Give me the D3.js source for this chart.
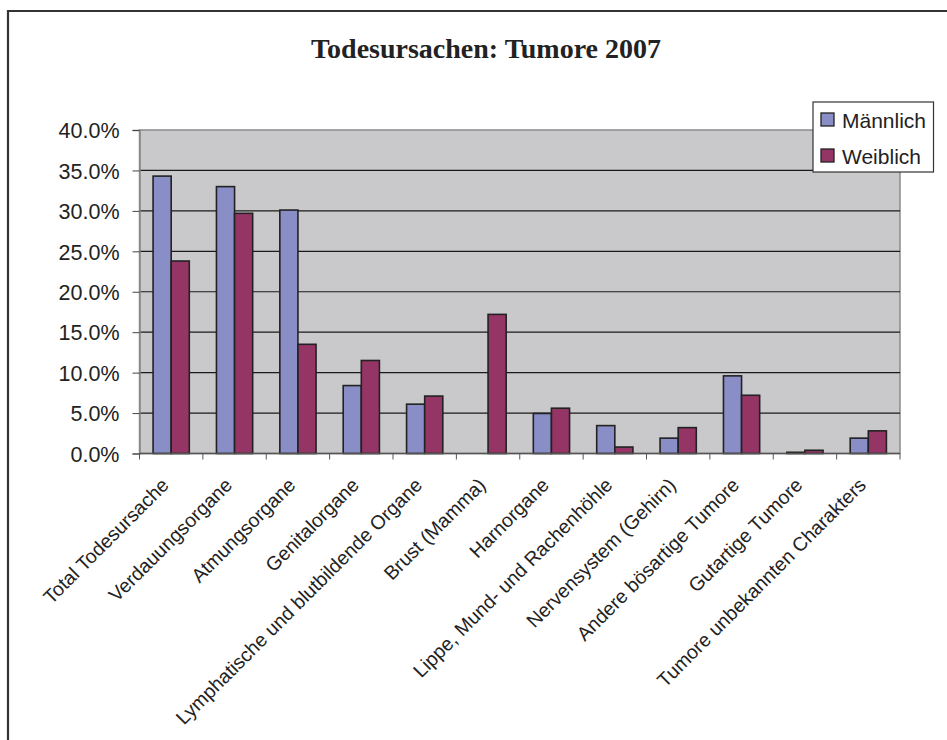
<!DOCTYPE html>
<html>
<head>
<meta charset="utf-8">
<script src="https://cdn.jsdelivr.net/npm/d3@7"></script>
<style>
  body { margin: 0; background: #fff; }
  text { font-family: "Liberation Sans", Arial, sans-serif; fill: #222; }
</style>
</head>
<body>
<svg id="chart" width="947" height="740"></svg>
<script>
const categories = [
  "Total Todesursache", "Verdauungsorgane", "Atmungsorgane", "Genitalorgane",
  "Lymphatische und blutbildende Organe", "Brust (Mamma)", "Harnorgane",
  "Lippe, Mund- und Rachenhöhle", "Nervensystem (Gehirn)", "Andere bösartige Tumore",
  "Gutartige Tumore", "Tumore unbekannten Charakters"
];
const maennlich = [34.3, 33.0, 30.1, 8.4, 6.1, 0, 4.95, 3.45, 1.9, 9.6, 0.15, 1.9];
const weiblich  = [23.8, 29.7, 13.5, 11.5, 7.1, 17.2, 5.6, 0.8, 3.2, 7.2, 0.4, 2.8];
const series = ["Männlich", "Weiblich"];
const yTicks = [0, 5, 10, 15, 20, 25, 30, 35, 40];

const colors = { "Männlich": "#8a8ec6", "Weiblich": "#953565" };

const svg = d3.select("#chart");
const plot = { left: 139.5, right: 900, top: 130, bottom: 453.5 };

// outer frame (only top and left edges visible in the picture)
svg.append("path")
  .attr("d", "M8,740 V11 H947")
  .attr("fill", "none")
  .attr("stroke", "#333")
  .attr("stroke-width", 2.2);

svg.append("text")
  .attr("x", 486)
  .attr("y", 58)
  .attr("text-anchor", "middle")
  .style("font-family", "'Liberation Serif', 'Times New Roman', serif")
  .style("font-weight", "bold")
  .style("font-size", "28px")
  .text("Todesursachen: Tumore 2007");

const x = d3.scaleBand()
  .domain(categories)
  .range([plot.left, plot.right]);

const barW = x.bandwidth() / 3.5;
const x1 = d3.scaleBand()
  .domain(series)
  .range([0, barW * 2]);

const y = d3.scaleLinear()
  .domain([0, 40])
  .range([plot.bottom, plot.top]);

// plot background
svg.append("rect")
  .attr("x", plot.left)
  .attr("y", plot.top)
  .attr("width", plot.right - plot.left)
  .attr("height", plot.bottom - plot.top)
  .attr("fill", "#c9c9cb")
  .attr("stroke", "#8a8a8a")
  .attr("stroke-width", 1.5);

// gridlines
svg.append("g")
  .selectAll("line")
  .data(yTicks.filter(d => d > 0 && d < 40))
  .enter().append("line")
    .attr("x1", plot.left)
    .attr("x2", plot.right)
    .attr("y1", d => y(d))
    .attr("y2", d => y(d))
    .attr("stroke", "#1a1a1a")
    .attr("stroke-width", 1.2);

// bars
const rows = categories.map((c, i) => ({ cat: c, values: [maennlich[i], weiblich[i]] }));

const groups = svg.append("g")
  .selectAll("g")
  .data(rows)
  .enter().append("g")
    .attr("transform", d => "translate(" + (x(d.cat) + (x.bandwidth() - barW * 2) / 2) + ",0)");

groups.selectAll("rect")
  .data(d => series.map((s, j) => ({ s: s, v: d.values[j] })).filter(d => d.v > 0))
  .enter().append("rect")
    .attr("x", d => x1(d.s))
    .attr("y", d => y(d.v))
    .attr("width", x1.bandwidth())
    .attr("height", d => y(0) - y(d.v))
    .attr("fill", d => colors[d.s])
    .attr("stroke", "#222")
    .attr("stroke-width", 1.6);

// y axis
const yAxis = svg.append("g")
  .attr("transform", "translate(" + plot.left + ",0)")
  .call(d3.axisLeft(y).tickValues(yTicks).tickSize(7).tickPadding(13)
    .tickFormat(d => d.toFixed(1) + "%"));
yAxis.select(".domain").attr("stroke", "#888").attr("stroke-width", 1.5);
yAxis.selectAll(".tick line").attr("stroke", "#444");
yAxis.selectAll("text")
  .attr("fill", "#222")
  .style("font-size", "21.5px")
  .attr("dy", "0.36em");

// x axis ticks between categories
const xAxis = svg.append("g")
  .attr("transform", "translate(0," + plot.bottom + ")");
xAxis.append("line")
  .attr("x1", plot.left).attr("x2", plot.right)
  .attr("stroke", "#555").attr("stroke-width", 1.5);
xAxis.selectAll("line.tick")
  .data(categories.concat([null]))
  .enter().append("line")
    .attr("class", "tick")
    .attr("x1", (d, i) => plot.left + i * x.step())
    .attr("x2", (d, i) => plot.left + i * x.step())
    .attr("y1", 0).attr("y2", 6)
    .attr("stroke", "#555");

xAxis.selectAll("text")
  .data(categories)
  .enter().append("text")
    .attr("transform", d => "translate(" + (x(d) + x.bandwidth() / 2 - 6) + ",28) rotate(-45)")
    .attr("text-anchor", "end")
    .attr("dy", "0.35em")
    .style("font-size", "19.5px")
    .text(d => d);

// legend
const legend = svg.append("g").attr("transform", "translate(813,102)");
legend.append("rect")
  .attr("width", 120.5)
  .attr("height", 70)
  .attr("fill", "#fff")
  .attr("stroke", "#333")
  .attr("stroke-width", 1.2);

const item = legend.selectAll("g")
  .data(series)
  .enter().append("g")
    .attr("transform", (d, i) => "translate(8," + (11 + i * 36) + ")");
item.append("rect")
  .attr("width", 13)
  .attr("height", 13)
  .attr("fill", d => colors[d])
  .attr("stroke", "#222")
  .attr("stroke-width", 1.3);
item.append("text")
  .attr("x", 21)
  .attr("y", 7)
  .attr("dy", "0.36em")
  .style("font-size", "21px")
  .text(d => d);
</script>
</body>
</html>
